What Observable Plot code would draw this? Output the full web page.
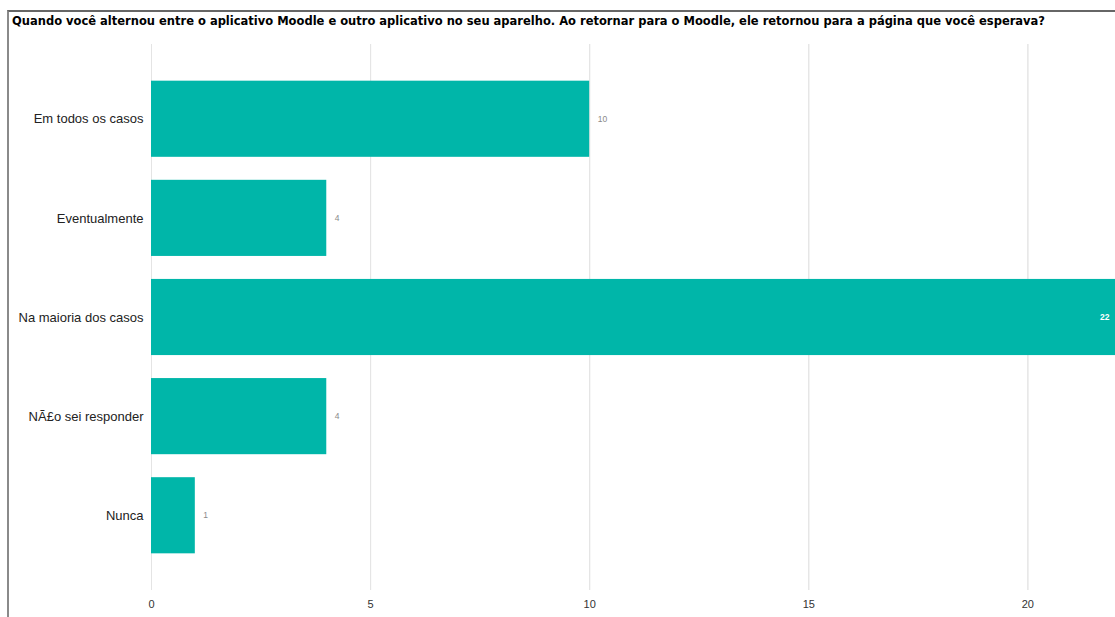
<!DOCTYPE html>
<html>
<head>
<meta charset="utf-8">
<script src="https://cdn.jsdelivr.net/npm/d3@7"></script>
<script src="https://cdn.jsdelivr.net/npm/@observablehq/plot@0.6"></script>
<style>
  html, body { margin: 0; padding: 0; background: #fff; width: 1115px; height: 617px; overflow: hidden; }
  #frame { position: absolute; left: 7px; top: 10px; width: 1108px; height: 607px;
           border-top: 2px solid #666; border-left: 2px solid #8a8a8a; box-sizing: border-box; }
  #title { position: absolute; left: 12px; top: 14px; font-family: "DejaVu Sans", sans-serif; font-weight: bold;
           font-size: 11.5px; color: #000; white-space: nowrap; letter-spacing: 0px; }
  #chart { position: absolute; left: 0; top: 38px; }
</style>
</head>
<body>
<div id="frame"></div>
<div id="title">Quando você alternou entre o aplicativo Moodle e outro aplicativo no seu aparelho. Ao retornar para o Moodle, ele retornou para a página que você esperava?</div>
<div id="chart"></div>
<script>
const categories = ["Em todos os casos", "Eventualmente", "Na maioria dos casos", "NÃ£o sei responder", "Nunca"];
const values = [10, 4, 22, 4, 1];
const xTicks = [0, 5, 10, 15, 20];

const data = categories.map((c, i) => ({category: c, value: values[i]}));
const maxV = d3.max(values);

const chart = Plot.plot({
  width: 1115,
  height: 579,
  marginLeft: 151,
  marginRight: 0,
  marginTop: 6,
  marginBottom: 27,
  style: {fontFamily: "Liberation Sans, Arial, sans-serif", background: "transparent"},
  x: {domain: [0, 22], ticks: xTicks, grid: true, label: null},
  y: {domain: categories, label: null, paddingInner: 0.232, paddingOuter: 0.37, round: false},
  marks: [
    Plot.gridX(xTicks, {stroke: "#e4e4e4", strokeOpacity: 1, strokeWidth: 1}),
    Plot.barX(data, {x: "value", y: "category", fill: "#00b6a9"}),
    Plot.text(data, {filter: d => d.value < maxV, x: "value", y: "category", text: d => String(d.value),
      textAnchor: "start", dx: 8, fill: "#8a8a8a", fontSize: 8.5}),
    Plot.text(data, {filter: d => d.value === maxV, x: "value", y: "category", text: d => String(d.value),
      textAnchor: "end", dx: -6, fill: "#ffffff", fontSize: 8.5, fontWeight: "bold"}),
    Plot.axisX({ticks: xTicks, tickSize: 0, tickPadding: 10, fontSize: 11, fill: "#333", label: null}),
    Plot.axisY({tickSize: 0, tickPadding: 8, fontSize: 13, fill: "#222", label: null})
  ]
});
document.getElementById("chart").appendChild(chart);
</script>
</body>
</html>
